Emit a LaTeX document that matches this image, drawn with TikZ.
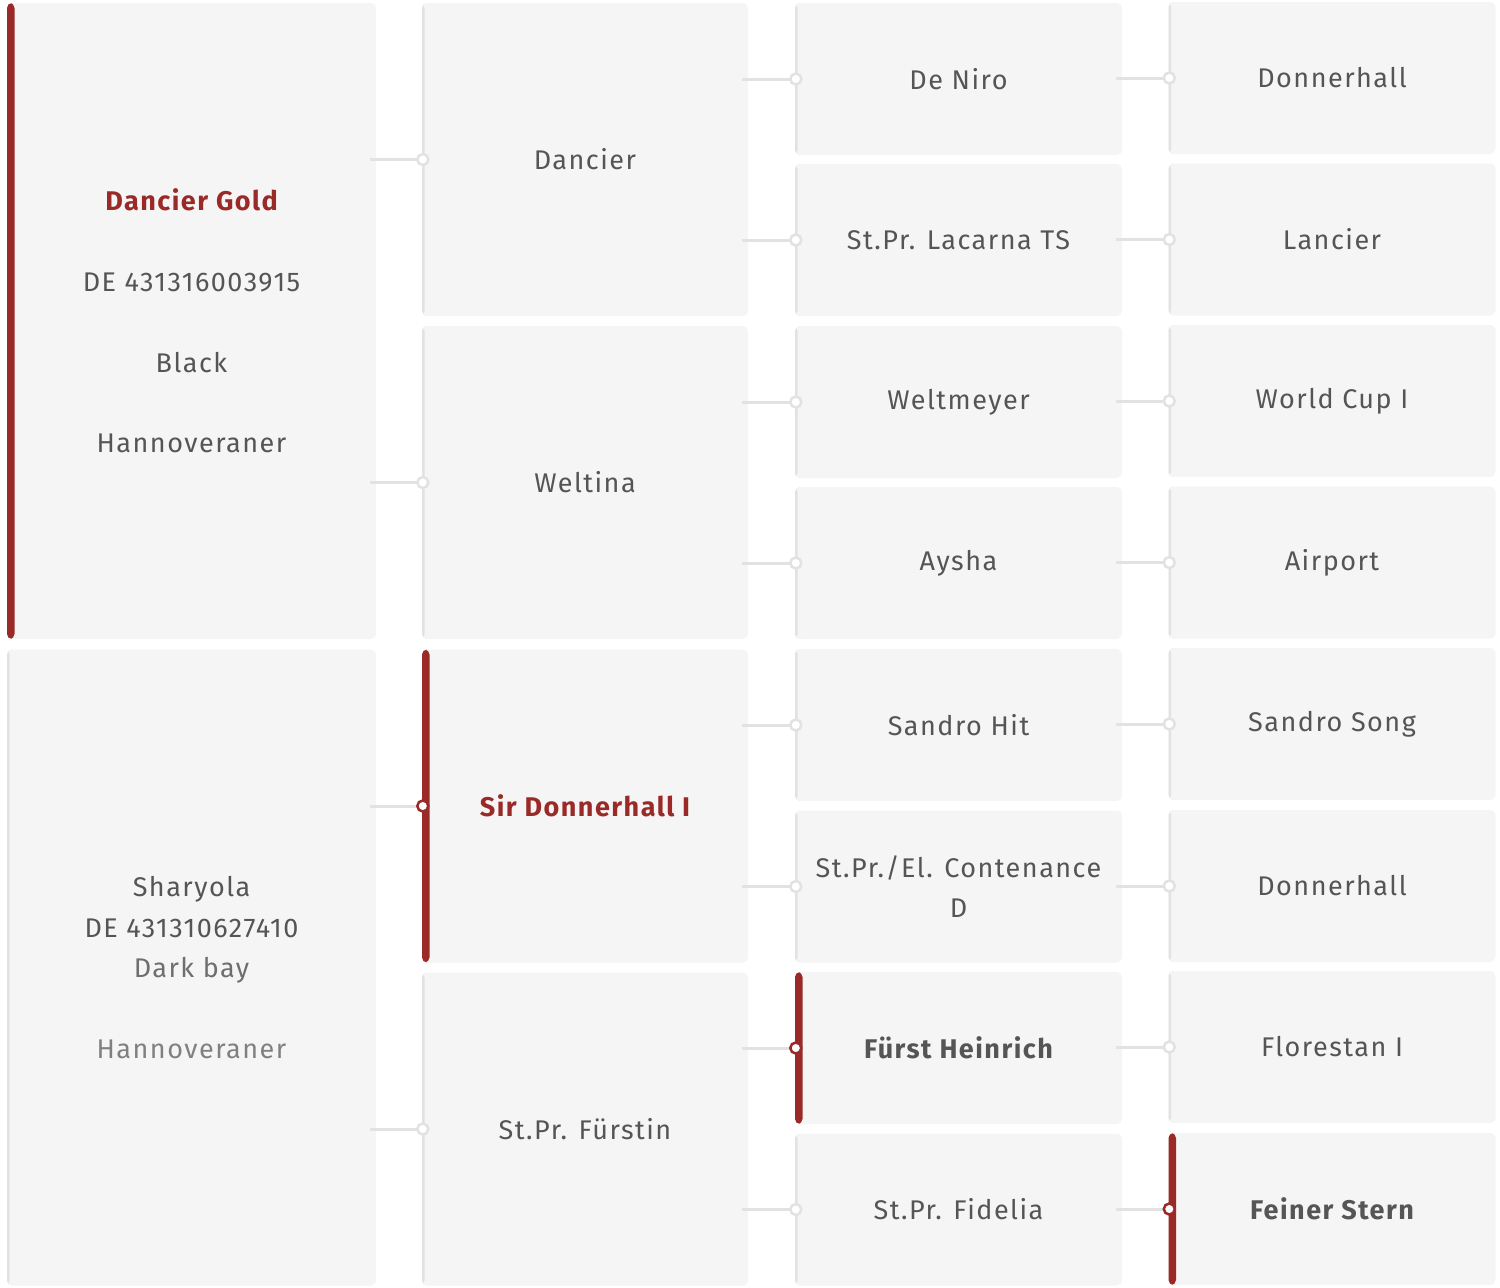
\documentclass[tikz,border=0pt]{standalone}
\usepackage{fontspec}
\setmainfont[LetterSpace=5.5]{Fira Sans}
\usetikzlibrary{calc}

\definecolor{boxbg}{HTML}{F5F5F5}
\definecolor{rim}{HTML}{E2E2E2}
\definecolor{wine}{HTML}{9A2A27}
\definecolor{ink}{HTML}{555555}

\begin{document}
\begin{tikzpicture}[x=1pt,y=-1pt,
	gen/.style={rectangle,rounded corners=5pt,fill=boxbg,inner sep=0pt,align=center,text=ink,
		font=\fontsize{27}{40.3}\selectfont,
		path picture={\fill[rim] (path picture bounding box.north west) rectangle ([xshift=2.5pt]path picture bounding box.south west);}},
	lead/.style={path picture={\fill[wine] (path picture bounding box.north west) rectangle ([xshift=7.5pt]path picture bounding box.south west);}},
	gen1/.style={gen,minimum width=369pt,minimum height=636pt},
	gen2/.style={gen,minimum width=326pt,minimum height=313pt},
	gen3/.style={gen,minimum width=327pt,minimum height=152pt},
	link/.style={draw=rim,line width=3pt},
	dot/.style={circle,draw=#1,fill=white,line width=2.5pt,minimum size=11pt,inner sep=0pt}]
	\useasboundingbox (0,0) rectangle (1500,1288);
	% 1. Generation
	\node[gen1,lead] (c1a) at (191.5,321) {\textcolor{wine}{\bfseries Dancier Gold}\\[40.3pt]DE 431316003915\\[40.3pt]Black\\[40.3pt]Hannoveraner};
	\node[gen1] (c1b) at (191.5,967.5) {Sharyola\\DE 431310627410\\\textcolor{ink!85}{Dark bay}\\[40.3pt]\textcolor{ink!75}{Hannoveraner}};
	% 2. Generation
	\node[gen2] (c2a) at (585,159.5) {Dancier};
	\node[gen2] (c2b) at (585,482.5) {Weltina};
	\node[gen2,lead] (c2c) at (585,806) {\textcolor{wine}{\bfseries Sir Donnerhall I}};
	\node[gen2] (c2d) at (585,1129) {St.Pr. Fürstin};
	% 3. Generation
	\node[gen3] (c3a) at (958.5,79) {De Niro};
	\node[gen3] (c3b) at (958.5,240) {St.Pr. Lacarna TS};
	\node[gen3] (c3c) at (958.5,402) {Weltmeyer};
	\node[gen3] (c3d) at (958.5,563) {Aysha};
	\node[gen3] (c3e) at (958.5,725) {Sandro Hit};
	\node[gen3] (c3f) at (958.5,886.5) {St.Pr./El. Contenance\\D};
	\node[gen3,lead] (c3g) at (958.5,1048) {\bfseries Fürst Heinrich};
	\node[gen3] (c3h) at (958.5,1209.5) {St.Pr. Fidelia};
	% 4. Generation
	\node[gen3] (c4a) at (1332,78) {Donnerhall};
	\node[gen3] (c4b) at (1332,239.5) {Lancier};
	\node[gen3] (c4c) at (1332,401) {World Cup I};
	\node[gen3] (c4d) at (1332,562.5) {Airport};
	\node[gen3] (c4e) at (1332,724) {Sandro Song};
	\node[gen3] (c4f) at (1332,886) {Donnerhall};
	\node[gen3] (c4g) at (1332,1047) {Florestan I};
	\node[gen3,lead] (c4h) at (1332,1209) {\bfseries Feiner Stern};
	% Verbindungen
	\foreach \p/\c/\col in {c1a/c2a/rim,c1a/c2b/rim,c1b/c2c/wine,c1b/c2d/rim,
		c2a/c3a/rim,c2a/c3b/rim,c2b/c3c/rim,c2b/c3d/rim,c2c/c3e/rim,c2c/c3f/rim,c2d/c3g/wine,c2d/c3h/rim,
		c3a/c4a/rim,c3b/c4b/rim,c3c/c4c/rim,c3d/c4d/rim,c3e/c4e/rim,c3f/c4f/rim,c3g/c4g/rim,c3h/c4h/wine}{
		\draw[link] ([xshift=-6pt]\p.east |- \c.west) -- (\c.west);
		\node[dot=\col] (d-\c) at ([xshift=1pt]\c.west) {};
	}
\end{tikzpicture}
\end{document}
